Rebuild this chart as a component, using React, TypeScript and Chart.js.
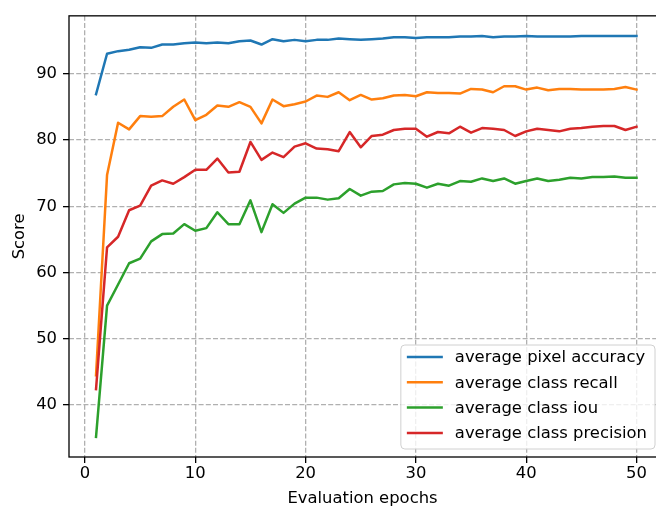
import React, { useEffect, useRef } from "react";
import { Chart, registerables } from "chart.js";

Chart.register(...registerables);

const epochs = [
  1, 2, 3, 4, 5, 6, 7, 8, 9, 10, 11, 12, 13, 14, 15, 16, 17, 18, 19, 20, 21, 22, 23, 24, 25,
  26, 27, 28, 29, 30, 31, 32, 33, 34, 35, 36, 37, 38, 39, 40, 41, 42, 43, 44, 45, 46, 47, 48, 49, 50,
];

const pixelAccuracy = [
  86.9, 93.0, 93.4, 93.6, 94.0, 93.9, 94.4, 94.4, 94.6, 94.7, 94.6, 94.7, 94.6, 94.9, 95.0, 94.4, 95.2,
  94.9, 95.1, 94.9, 95.1, 95.1, 95.3, 95.2, 95.1, 95.2, 95.3, 95.5, 95.5, 95.4, 95.5, 95.5, 95.5, 95.6,
  95.6, 95.7, 95.5, 95.6, 95.6, 95.7, 95.6, 95.6, 95.6, 95.6, 95.7, 95.7, 95.7, 95.7, 95.7, 95.7,
];

const classRecall = [
  44.5, 74.7, 82.6, 81.6, 83.6, 83.5, 83.6, 85.0, 86.1, 83.0, 83.8, 85.2, 85.0, 85.7, 85.0, 82.5, 86.1,
  85.1, 85.4, 85.8, 86.7, 86.5, 87.2, 86.0, 86.8, 86.1, 86.3, 86.7, 86.8, 86.6, 87.2, 87.1, 87.1, 87.0,
  87.7, 87.6, 87.2, 88.1, 88.1, 87.6, 87.9, 87.5, 87.7, 87.7, 87.6, 87.6, 87.6, 87.7, 88.0, 87.6,
];

const classIou = [
  35.2, 55.0, 58.2, 61.4, 62.1, 64.7, 65.8, 65.9, 67.3, 66.3, 66.7, 69.1, 67.3, 67.3, 70.9, 66.1, 70.3,
  69.0, 70.4, 71.3, 71.3, 71.0, 71.2, 72.6, 71.6, 72.2, 72.3, 73.3, 73.5, 73.4, 72.8, 73.4, 73.1, 73.8,
  73.7, 74.2, 73.8, 74.2, 73.4, 73.8, 74.2, 73.8, 74.0, 74.3, 74.2, 74.4, 74.4, 74.5, 74.3, 74.3,
];

const classPrecision = [
  42.4, 63.8, 65.4, 69.4, 70.1, 73.1, 73.9, 73.4, 74.4, 75.5, 75.5, 77.2, 75.1, 75.2, 79.7, 77.0, 78.1,
  77.4, 79.0, 79.5, 78.7, 78.6, 78.3, 81.2, 78.9, 80.6, 80.8, 81.5, 81.7, 81.7, 80.5, 81.2, 81.0, 82.0,
  81.1, 81.8, 81.7, 81.5, 80.6, 81.3, 81.7, 81.5, 81.3, 81.7, 81.8, 82.0, 82.1, 82.1, 81.5, 82.0,
];

const seriesLabels = [
  "average pixel accuracy",
  "average class recall",
  "average class iou",
  "average class precision",
];
const seriesColors = ["#1f77b4", "#ff7f0e", "#2ca02c", "#d62728"];
const seriesValues = [pixelAccuracy, classRecall, classIou, classPrecision];

const xTicks = [0, 10, 20, 30, 40, 50];
const yTicks = [40, 50, 60, 70, 80, 90];
const xTitle = "Evaluation epochs";
const yTitle = "Score";

const FONT = "'DejaVu Sans', 'Liberation Sans', sans-serif";
const FONT_SIZE = 16.4;

const spinesPlugin = {
  id: "spines",
  afterDatasetsDraw(chart: any) {
    const { ctx, chartArea } = chart;
    ctx.save();
    ctx.strokeStyle = "#000";
    ctx.lineWidth = 1.3;
    ctx.strokeRect(
      chartArea.left,
      chartArea.top,
      chartArea.right - chartArea.left + 20,
      chartArea.bottom - chartArea.top
    );
    ctx.restore();
  },
};

const legendPlugin = {
  id: "mplLegend",
  afterDraw(chart: any) {
    const { ctx, chartArea } = chart;
    const ds = chart.data.datasets;
    ctx.save();
    ctx.font = `${FONT_SIZE}px ${FONT}`;
    let maxW = 0;
    ds.forEach((d: any) => {
      maxW = Math.max(maxW, ctx.measureText(d.label).width);
    });
    const rowH = 25.3;
    const boxW = 6 + 36 + 12 + maxW + 8;
    const boxH = 104;
    const right = 655;
    const bottom = chartArea.bottom - 8;
    const left = right - boxW;
    const top = bottom - boxH;
    const r = 4;
    ctx.beginPath();
    ctx.moveTo(left + r, top);
    ctx.lineTo(right - r, top);
    ctx.arcTo(right, top, right, top + r, r);
    ctx.lineTo(right, bottom - r);
    ctx.arcTo(right, bottom, right - r, bottom, r);
    ctx.lineTo(left + r, bottom);
    ctx.arcTo(left, bottom, left, bottom - r, r);
    ctx.lineTo(left, top + r);
    ctx.arcTo(left, top, left + r, top, r);
    ctx.closePath();
    ctx.fillStyle = "rgba(255,255,255,0.8)";
    ctx.fill();
    ctx.strokeStyle = "#d0d0d0";
    ctx.lineWidth = 1;
    ctx.stroke();
    ds.forEach((d: any, i: number) => {
      const y = top + 12 + i * rowH;
      ctx.beginPath();
      ctx.strokeStyle = d.borderColor;
      ctx.lineWidth = 2.5;
      ctx.moveTo(left + 6, y);
      ctx.lineTo(left + 42, y);
      ctx.stroke();
      ctx.fillStyle = "#000";
      ctx.textBaseline = "middle";
      ctx.textAlign = "left";
      ctx.fillText(d.label, left + 54, y + 1);
    });
    ctx.restore();
  },
};

export default function App() {
  const canvasRef = useRef<HTMLCanvasElement | null>(null);

  useEffect(() => {
    if (!canvasRef.current) return;
    const all = seriesValues.flat();
    const lo = Math.min(...all);
    const hi = Math.max(...all);
    const m = (hi - lo) * 0.05;

    const datasets = seriesLabels.map((label, i) => ({
      label,
      data: epochs.map((e, j) => ({ x: e, y: seriesValues[i][j] })),
      borderColor: seriesColors[i],
      backgroundColor: seriesColors[i],
      borderWidth: 2.5,
      pointRadius: 0,
      pointHoverRadius: 0,
      tension: 0,
      fill: false,
      borderJoinStyle: "round" as const,
      borderCapStyle: "square" as const,
      order: seriesLabels.length - 1 - i,
    }));

    const tickFont = { family: FONT, size: FONT_SIZE };

    const chart = new Chart(canvasRef.current, {
      type: "line",
      data: { datasets },
      plugins: [spinesPlugin, legendPlugin],
      options: {
        animation: false,
        responsive: false,
        devicePixelRatio: 1,
        events: [],
        layout: { padding: { left: 0, top: 15, right: 0, bottom: 0 } },
        plugins: {
          legend: { display: false },
          tooltip: { enabled: false },
        },
        scales: {
          x: {
            type: "linear",
            min: -1.45,
            max: 51.77,
            afterBuildTicks: (scale: any) => {
              scale.ticks = xTicks.map((v) => ({ value: v }));
            },
            afterFit: (scale: any) => {
              scale.height = 52;
            },
            ticks: {
              font: tickFont,
              color: "#000",
              padding: 1,
              maxRotation: 0,
              autoSkip: false,
              callback: (v: any) => String(v),
            },
            grid: {
              color: "#b0b0b0",
              lineWidth: 1.3,
              drawTicks: true,
              tickLength: 6,
              tickColor: "#000",
              tickWidth: 1.3,
              tickBorderDash: [],
            },
            border: { display: false, dash: [5, 2.2] },
            title: {
              display: true,
              text: xTitle,
              font: tickFont,
              color: "#000",
              padding: { top: 3.6, bottom: 0 },
            },
          },
          y: {
            type: "linear",
            min: lo - m,
            max: hi + m,
            afterBuildTicks: (scale: any) => {
              scale.ticks = yTicks.map((v) => ({ value: v }));
            },
            afterFit: (scale: any) => {
              scale.width = 69;
            },
            ticks: {
              font: tickFont,
              color: "#000",
              padding: 6,
              autoSkip: false,
              callback: (v: any) => String(v),
            },
            grid: {
              color: "#b0b0b0",
              lineWidth: 1.3,
              drawTicks: true,
              tickLength: 6,
              tickColor: "#000",
              tickWidth: 1.3,
              tickBorderDash: [],
            },
            border: { display: false, dash: [5, 2.2] },
            title: {
              display: true,
              text: yTitle,
              font: tickFont,
              color: "#000",
              padding: { top: 10.2, bottom: 0 },
            },
          },
        },
      } as any,
    });

    return () => {
      chart.destroy();
    };
  }, []);

  return (
    <div style={{ position: "fixed", left: 0, top: 0, width: 656, height: 509, background: "#fff" }}>
      <canvas ref={canvasRef} width={656} height={509} style={{ width: 656, height: 509, display: "block" }} />
    </div>
  );
}
